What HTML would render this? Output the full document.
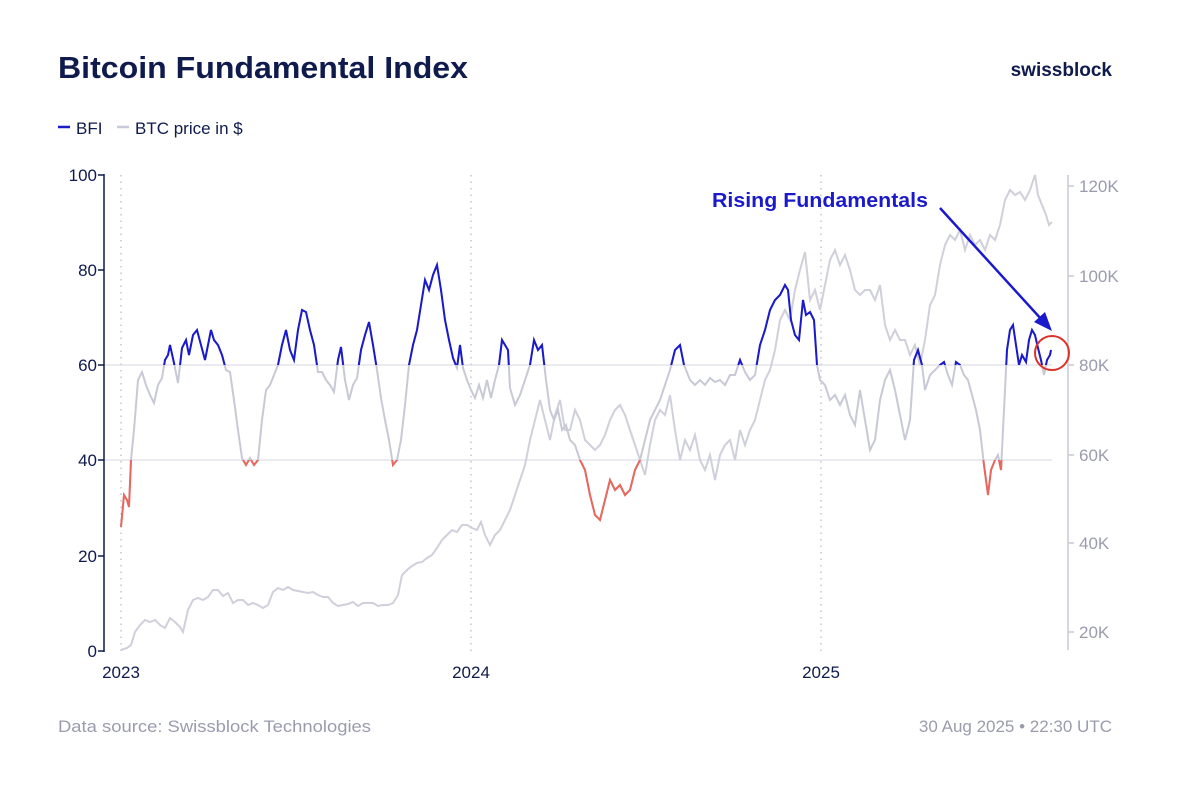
<!DOCTYPE html>
<html><head><meta charset="utf-8"><style>
body{margin:0;background:#fff;width:1200px;height:798px;overflow:hidden;font-family:"Liberation Sans",sans-serif}
</style></head><body>
<svg width="1200" height="798" xmlns="http://www.w3.org/2000/svg" font-family="Liberation Sans, sans-serif">
<defs>
<clipPath id="top"><rect x="100" y="150" width="960" height="215"/></clipPath>
<clipPath id="bot"><rect x="100" y="460" width="960" height="200"/></clipPath>
<polyline id="bf" fill="none" stroke-width="2" points="121,527 124,495 127,500 129,507 131,460 134,430 138,380 142,372 146,385 150,395 154,403 158,385 162,378 165,360 168,355 170,345 174,363 178,383 182,348 186,340 189,355 193,335 197,330 201,345 205,360 208,345 211,330 214,340 218,345 222,355 226,370 230,372 234,400 238,430 242,458 246,465 250,458 254,465 258,460 262,420 266,390 270,385 274,375 278,365 282,345 286,330 290,350 294,360 298,330 302,310 306,312 310,330 314,345 318,372 322,372 326,380 330,385 334,392 338,360 341,347 345,380 349,400 353,385 357,378 361,350 365,335 369,322 373,345 377,370 381,398 385,420 389,440 393,465 397,460 401,440 405,405 409,365 413,345 417,330 421,305 425,280 429,290 433,275 437,265 441,290 445,320 449,340 453,358 457,368 460,345 463,368 467,380 471,390 475,398 479,385 483,398 487,380 491,398 495,380 499,365 502,340 505,345 508,350 510,388 515,405 520,395 525,380 530,365 534,340 538,350 542,345 546,380 550,410 554,420 558,410 562,430 566,425 570,440 575,445 580,460 585,470 590,495 595,515 600,520 605,500 610,480 615,490 620,485 625,495 630,490 635,470 640,460 645,440 650,420 655,410 660,400 665,385 670,370 675,350 680,345 684,365 690,380 695,385 700,380 705,385 710,378 715,382 720,380 725,385 730,375 735,375 740,360 745,372 750,380 755,375 760,345 765,330 770,310 775,300 780,295 785,285 788,290 791,320 795,335 799,340 803,300 806,315 810,312 814,320 817,365 820,380 825,385 830,400 835,395 840,405 845,395 850,415 855,425 860,390 865,420 870,450 875,440 880,400 885,380 890,370 895,390 900,415 905,440 910,420 914,360 918,350 922,365 925,390 930,375 935,370 940,365 944,362 948,375 952,385 956,362 960,365 964,375 968,380 972,395 976,410 980,430 984,465 988,495 991,470 995,460 998,455 1001,470 1004,410 1007,350 1010,330 1013,325 1016,345 1019,365 1022,355 1026,362 1029,340 1032,330 1035,335 1038,348 1041,360 1044,375 1047,360 1050,355 1051,350"/>
</defs>
<text x="58" y="78" font-size="31" font-weight="bold" fill="#0f1a4d" textLength="410" lengthAdjust="spacingAndGlyphs">Bitcoin Fundamental Index</text>
<text x="1112" y="76" font-size="19" font-weight="bold" fill="#0f1a4d" text-anchor="end">swissblock</text>
<line x1="58" y1="127" x2="70" y2="127" stroke="#1a1acc" stroke-width="2.5"/>
<text x="76" y="134" font-size="17" fill="#0f1a4d">BFI</text>
<line x1="117" y1="127" x2="129" y2="127" stroke="#c8c9d6" stroke-width="2.5"/>
<text x="135" y="134" font-size="17" fill="#0f1a4d">BTC price in $</text>
<g stroke="#c4c6d2" stroke-width="1.5" stroke-dasharray="1.5,5">
<line x1="121" y1="175" x2="121" y2="651"/><line x1="471" y1="175" x2="471" y2="651"/><line x1="821" y1="175" x2="821" y2="651"/></g>
<g stroke="#d4d6e0" stroke-width="1"><line x1="104" y1="365" x2="1052" y2="365"/><line x1="104" y1="460" x2="1052" y2="460"/></g>
<line x1="104" y1="174" x2="104" y2="652" stroke="#0f1a4d" stroke-width="1.5"/>
<g stroke="#0f1a4d" stroke-width="1.5"><line x1="98" y1="175" x2="104" y2="175"/><line x1="98" y1="270" x2="104" y2="270"/><line x1="98" y1="365" x2="104" y2="365"/><line x1="98" y1="460" x2="104" y2="460"/><line x1="98" y1="556" x2="104" y2="556"/><line x1="98" y1="651" x2="104" y2="651"/></g>
<g font-size="17" fill="#0f1a4d" text-anchor="end"><text x="97" y="181">100</text><text x="97" y="276">80</text><text x="97" y="371">60</text><text x="97" y="466">40</text><text x="97" y="562">20</text><text x="97" y="657">0</text></g>
<line x1="1068" y1="175" x2="1068" y2="650" stroke="#c8c9d6" stroke-width="1.5"/>
<g stroke="#c8c9d6" stroke-width="1.5"><line x1="1068" y1="186" x2="1074" y2="186"/><line x1="1068" y1="276" x2="1074" y2="276"/><line x1="1068" y1="365" x2="1074" y2="365"/><line x1="1068" y1="455" x2="1074" y2="455"/><line x1="1068" y1="543" x2="1074" y2="543"/><line x1="1068" y1="632" x2="1074" y2="632"/></g>
<g font-size="17" fill="#9a9cae"><text x="1079" y="192">120K</text><text x="1079" y="282">100K</text><text x="1079" y="371">80K</text><text x="1079" y="461">60K</text><text x="1079" y="549">40K</text><text x="1079" y="638">20K</text></g>
<g font-size="17" fill="#0f1a4d" text-anchor="middle"><text x="121" y="678">2023</text><text x="471" y="678">2024</text><text x="821" y="678">2025</text></g>
<polyline fill="none" stroke="#cfd0db" stroke-width="2" points="121,650 127,648 131,645 135,632 140,625 145,620 150,622 155,620 160,625 165,628 170,618 175,622 180,627 183,632 188,610 193,600 198,598 203,600 208,597 213,590 218,590 223,596 228,593 233,603 238,600 243,600 248,605 253,603 258,605 263,608 268,605 273,592 278,588 283,590 288,587 293,590 298,591 303,592 308,593 313,592 318,595 323,597 328,597 333,603 338,606 343,605 348,604 353,602 358,606 363,603 368,603 373,603 378,606 383,605 388,605 393,603 398,595 402,575 407,570 412,566 417,563 422,562 427,558 432,555 437,548 442,540 447,535 452,530 457,532 462,525 467,525 472,528 477,530 481,522 485,535 490,545 495,535 500,530 505,520 510,510 515,495 520,480 525,465 530,440 535,420 540,400 545,420 550,440 555,415 560,400 565,430 570,430 575,410 580,420 585,440 590,445 595,450 600,445 605,435 610,420 615,410 620,405 625,415 630,430 635,445 640,460 645,475 650,445 655,420 660,410 665,415 670,395 675,430 680,460 685,440 690,450 695,435 700,460 705,470 710,455 715,480 720,455 725,445 730,440 735,460 740,430 745,445 750,430 755,420 760,400 765,380 770,370 775,350 780,320 785,310 790,320 795,290 800,270 805,252 810,300 815,290 820,310 825,285 830,260 835,250 840,265 845,255 850,270 855,290 860,295 865,290 870,290 875,300 880,285 885,325 890,340 895,330 900,340 905,340 910,355 915,345 920,365 925,340 930,305 935,295 940,265 945,245 950,235 955,240 960,230 965,250 970,235 975,245 980,240 985,250 990,235 995,240 1000,225 1005,200 1010,190 1015,195 1020,192 1025,200 1030,190 1035,175 1038,195 1042,205 1046,215 1049,225 1052,222"/>
<use href="#bf" stroke="#c8c9d6"/>
<use href="#bf" clip-path="url(#top)" stroke="#1a1acc" stroke-width="2.5"/>
<use href="#bf" clip-path="url(#bot)" stroke="#e8675f"/>
<text x="712" y="207" font-size="20" font-weight="bold" fill="#1a1acc" textLength="216" lengthAdjust="spacingAndGlyphs">Rising Fundamentals</text>
<line x1="940" y1="208" x2="1042" y2="320" stroke="#1a1acc" stroke-width="2.5"/>
<polygon points="1052,331 1034,322 1045,312" fill="#1a1acc"/>
<circle cx="1052" cy="353" r="17" fill="none" stroke="#e0302a" stroke-width="2"/>
<text x="58" y="732" font-size="17" fill="#9a9cae" textLength="313" lengthAdjust="spacingAndGlyphs">Data source: Swissblock Technologies</text>
<text x="1112" y="732" font-size="17" fill="#9a9cae" text-anchor="end">30 Aug 2025 • 22:30 UTC</text>
</svg>
</body></html>
